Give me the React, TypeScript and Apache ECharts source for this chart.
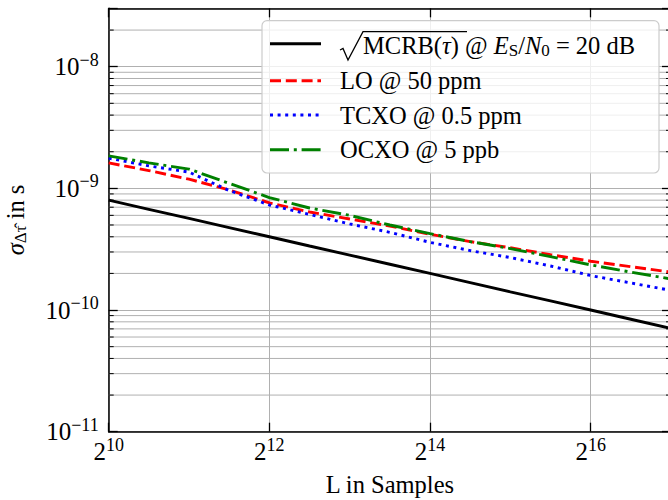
import React, { useEffect, useRef } from 'react';
import * as echarts from 'echarts';

const FONT = '"Liberation Serif", "Times New Roman", serif';
const GRID_COLOR = '#b0b0b0';
const FS = 24.5;

// L in samples (half-octave steps 2^10 .. 2^17)
const samples = [1024, 1448, 2048, 2896, 4096, 5793, 8192, 11585, 16384, 23170, 32768, 46341, 65536, 92682, 131072];
const mcrb = [8e-10, 6.73e-10, 5.66e-10, 4.76e-10, 4e-10, 3.36e-10, 2.83e-10, 2.38e-10, 2e-10, 1.68e-10, 1.41e-10, 1.19e-10, 1e-10, 8.4e-11, 7.07e-11];
const lo = [1.62e-9, 1.4e-9, 1.19e-9, 9.7e-10, 7.6e-10, 6.4e-10, 5.6e-10, 4.9e-10, 4.2e-10, 3.65e-10, 3.25e-10, 2.85e-10, 2.52e-10, 2.27e-10, 2.05e-10];
const tcxo = [1.77e-9, 1.53e-9, 1.36e-9, 9.6e-10, 7.3e-10, 6.1e-10, 5.1e-10, 4.35e-10, 3.6e-10, 3.08e-10, 2.7e-10, 2.3e-10, 1.92e-10, 1.67e-10, 1.45e-10];
const ocxo = [1.85e-9, 1.62e-9, 1.44e-9, 1.1e-9, 8.4e-10, 6.9e-10, 6.0e-10, 5.0e-10, 4.25e-10, 3.65e-10, 3.2e-10, 2.75e-10, 2.35e-10, 2.05e-10, 1.8e-10];

const yMinorTicks = [
  2e-11, 3e-11, 4e-11, 5e-11, 6e-11, 7e-11, 8e-11, 9e-11,
  2e-10, 3e-10, 4e-10, 5e-10, 6e-10, 7e-10, 8e-10, 9e-10,
  2e-9, 3e-9, 4e-9, 5e-9, 6e-9, 7e-9, 8e-9, 9e-9,
  2e-8,
];

const xMin = 1024;
const xMax = 131072;
const yMin = 1e-11;
const yMax = 3.02e-8;

const seriesNames = ['MCRB', 'LO @ 50 ppm', 'TCXO @ 0.5 ppm', 'OCXO @ 5 ppb'];
const seriesColors = ['#000000', '#ff0000', '#0000ff', '#008000'];
const seriesDash: any[] = ['solid', [11, 4.8], [3, 4.6], [19, 4.8, 3, 4.8]];

const pairs = (ys: number[]) => samples.map((x, i) => [x, ys[i]]);

function yLabel(value: number) {
  const e = Math.log10(value);
  const r = Math.round(e);
  if (Math.abs(e - r) > 1e-6) return '';
  return `{b|10}{s|\u2212${-r}}`;
}

function xLabel(value: number) {
  const e = Math.log2(value);
  const r = Math.round(e);
  if (Math.abs(e - r) > 1e-6 || r % 2 !== 0) return '';
  return `{b|2}{s|${r}}`;
}

const labelRich = {
  b: { fontSize: 25, fontFamily: FONT, color: '#000' },
  s: { fontSize: 18, fontFamily: FONT, color: '#000', padding: [0, 0, 14, 0] },
};

export default function App() {
  const ref = useRef<HTMLDivElement>(null);
  useEffect(() => {
    if (!ref.current) return;
    const chart = echarts.init(ref.current, null, { renderer: 'svg' });

    const lineSeries = [mcrb, lo, tcxo, ocxo].map((d, i) => ({
      type: 'line',
      name: seriesNames[i],
      data: pairs(d),
      showSymbol: false,
      symbol: 'none',
      z: 5,
      lineStyle: { color: seriesColors[i], width: 2.9, type: seriesDash[i], cap: 'butt' },
    }));

    const legendRows = [80.7, 115, 149.7];
    const sampleRows = [43.7, 80.7, 115, 149.7];

    const graphics: any[] = [
      {
        type: 'rect',
        z: 100,
        shape: { x: 262, y: 20.7, width: 397, height: 152.3, r: 5 },
        style: { fill: 'rgba(255,255,255,0.8)', stroke: '#cccccc', lineWidth: 1.2 },
      },
      ...sampleRows.map((y, i) => ({
        type: 'line',
        z: 101,
        shape: { x1: 270, y1: y, x2: 321, y2: y },
        style: {
          stroke: seriesColors[i],
          lineWidth: 2.9,
          lineDash: seriesDash[i] === 'solid' ? null : seriesDash[i],
        },
      })),
      ...legendRows.map((y, i) => ({
        type: 'text',
        z: 101,
        x: 340,
        y,
        style: {
          text: seriesNames[i + 1],
          fontSize: FS,
          fontFamily: FONT,
          fill: '#000',
          verticalAlign: 'middle',
          align: 'left',
        },
      })),
      {
        type: 'polyline',
        z: 101,
        shape: { points: [[340, 50], [343, 48.5], [348, 60], [363, 31.7], [467, 31.7]] },
        style: { stroke: '#000', lineWidth: 1.3, fill: null },
      },
      {
        type: 'text',
        z: 101,
        x: 363,
        y: 45.5,
        style: {
          text: '{n|MCRB(}{i|\u03c4}{n|) @ }{i|E}{sub|S}{n|/}{i|N}{sub|0}{n| = 20 dB}',
          fontSize: FS,
          fontFamily: FONT,
          fill: '#000',
          verticalAlign: 'middle',
          align: 'left',
          rich: {
            n: { fontSize: FS, fontFamily: FONT, fill: '#000' },
            i: { fontSize: FS, fontFamily: FONT, fontStyle: 'italic', fill: '#000' },
            sub: { fontSize: 17, fontFamily: FONT, fill: '#000', padding: [10, 0, 0, 0] },
          },
        },
      },
    ];

    const option: any = {
      animation: false,
      backgroundColor: '#ffffff',
      grid: {
        left: 108.7,
        top: 8.3,
        right: -3,
        bottom: 68.3,
        containLabel: false,
        outerBoundsMode: 'none',
      },
      xAxis: [
        {
          type: 'log',
          logBase: 2,
          min: xMin,
          max: xMax,
          interval: 2,
          position: 'bottom',
          name: 'L in Samples',
          nameLocation: 'middle',
          nameGap: 40,
          nameTextStyle: { fontSize: FS, fontFamily: FONT, color: '#000' },
          axisLine: { show: true, lineStyle: { color: '#000', width: 1.5 } },
          axisTick: { show: true, inside: true, length: 9, lineStyle: { color: '#000', width: 1.3 } },
          minorTick: { show: false },
          axisLabel: { show: true, margin: 4, formatter: xLabel, rich: labelRich, hideOverlap: false, showMinLabel: true, showMaxLabel: true },
          splitLine: { show: true, lineStyle: { color: GRID_COLOR, width: 1 } },
        },
        {
          type: 'log',
          logBase: 2,
          min: xMin,
          max: xMax,
          interval: 2,
          position: 'top',
          axisLine: { show: true, lineStyle: { color: '#000', width: 1.5 } },
          axisTick: { show: true, inside: true, length: 9, lineStyle: { color: '#000', width: 1.3 } },
          axisLabel: { show: false },
          splitLine: { show: false },
        },
      ],
      yAxis: [
        {
          type: 'log',
          logBase: 10,
          min: yMin,
          max: yMax,
          interval: 1,
          position: 'left',
          name: '{g|\u03c3}{sub|\u0394\u03c4\u0302}{n| in s}',
          nameLocation: 'middle',
          nameGap: 80,
          nameRotate: 90,
          nameTextStyle: {
            fontSize: FS,
            fontFamily: FONT,
            color: '#000',
            rich: {
              g: { fontSize: FS, fontFamily: FONT, fontStyle: 'italic', color: '#000' },
              sub: { fontSize: 17, fontFamily: FONT, color: '#000', padding: [10, 0, 0, 0] },
              n: { fontSize: FS, fontFamily: FONT, color: '#000' },
            },
          },
          axisLine: { show: true, lineStyle: { color: '#000', width: 1.5 } },
          axisTick: { show: true, inside: true, length: 9, lineStyle: { color: '#000', width: 1.3 } },
          axisLabel: { show: true, margin: 10, formatter: yLabel, rich: labelRich, hideOverlap: false, showMinLabel: true, showMaxLabel: true },
          splitLine: { show: true, lineStyle: { color: GRID_COLOR, width: 1 } },
        },
        {
          type: 'log',
          logBase: 10,
          min: yMin,
          max: yMax,
          interval: 1,
          position: 'right',
          axisLine: { show: true, lineStyle: { color: '#000', width: 1.5 } },
          axisTick: { show: true, inside: true, length: 9, lineStyle: { color: '#000', width: 1.3 } },
          axisLabel: { show: false },
          splitLine: { show: false },
        },
      ],
      series: [
        {
          type: 'custom',
          z: 1,
          silent: true,
          clip: true,
          data: yMinorTicks.map((v) => [xMin, v]),
          renderItem: (params: any, api: any) => {
            const y = api.coord([api.value(0), api.value(1)])[1];
            const cs = params.coordSys;
            const x0 = cs.x;
            const x1 = cs.x + cs.width;
            return {
              type: 'group',
              children: [
                { type: 'line', shape: { x1: x0, y1: y, x2: x1, y2: y }, style: { stroke: GRID_COLOR, lineWidth: 1 } },
                { type: 'line', shape: { x1: x0, y1: y, x2: x0 + 5, y2: y }, style: { stroke: '#000', lineWidth: 1 } },
                { type: 'line', shape: { x1: x1 - 5, y1: y, x2: x1, y2: y }, style: { stroke: '#000', lineWidth: 1 } },
              ],
            };
          },
        },
        ...lineSeries,
      ],
      graphic: graphics,
    };

    chart.setOption(option);
    return () => chart.dispose();
  }, []);

  return <div ref={ref} style={{ position: 'fixed', left: 0, top: 0, width: 668, height: 500, background: '#fff' }} />;
}
